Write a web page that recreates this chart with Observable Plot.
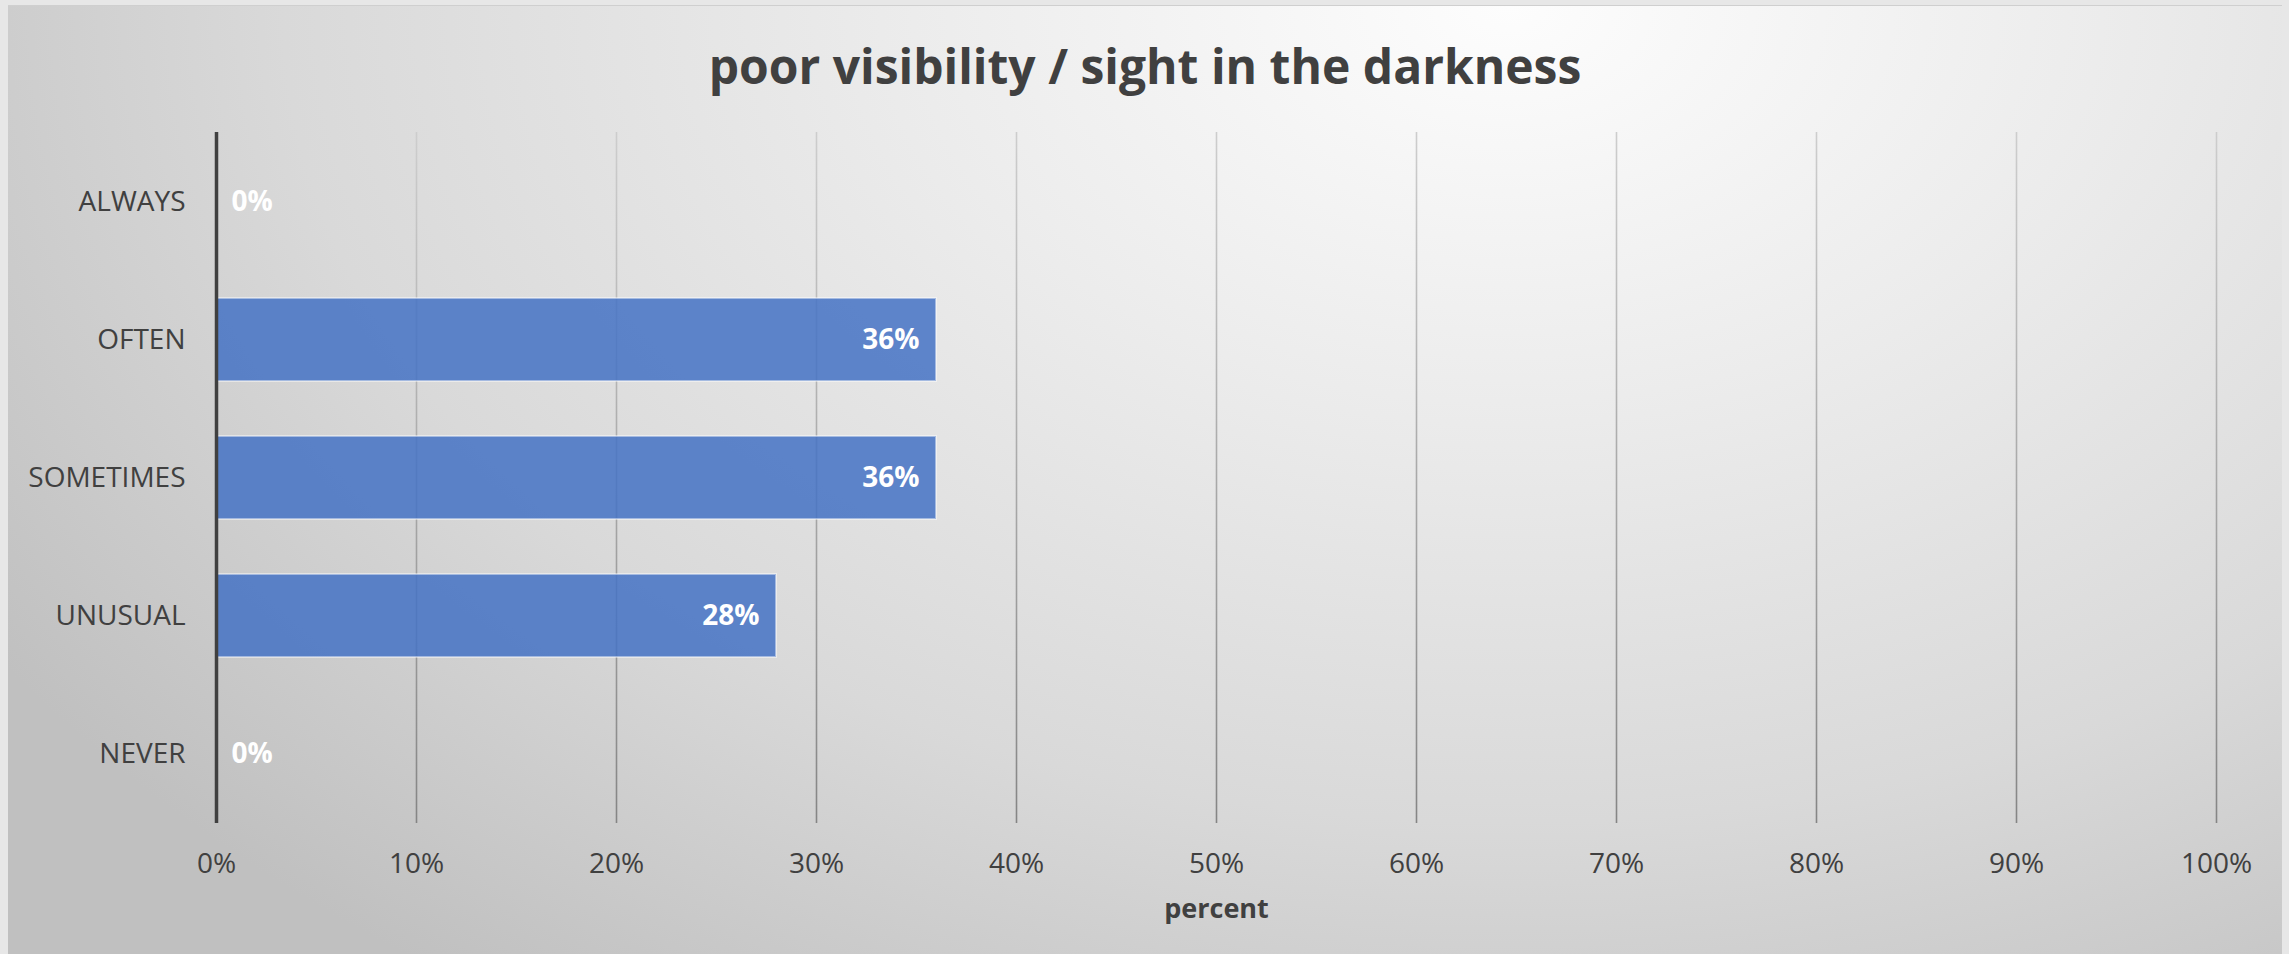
<!DOCTYPE html>
<html>
<head>
<meta charset="utf-8">
<script src="https://cdn.jsdelivr.net/npm/d3@7"></script>
<script src="https://cdn.jsdelivr.net/npm/@observablehq/plot@0.6"></script>
<style>
  html, body { margin: 0; padding: 0; background: #e7e7e7; }
  #wrap { position: relative; width: 2289px; height: 954px; overflow: hidden; background: #e7e7e7; }
  #frame {
    position: absolute; left: 8px; top: 5px; width: 2274px; height: 960px;
    border-top: 1px solid #cfcfcf;
    background: radial-gradient(ellipse 1800px 1200px at 1500px 0px, #fdfdfd 0%, #ececec 33%, #d9d9d9 68%, #c0c0c0 100%);
  }
  #title {
    position: absolute; left: 0; width: 2274px; top: 30px; text-align: center;
    font-family: "Open Sans", sans-serif; font-weight: 700; font-size: 48px; line-height: 60px;
    color: #404040;
  }
  #chart { position: absolute; left: 0; top: 100px; }
</style>
</head>
<body>
<div id="wrap">
  <div id="frame">
    <div id="title">poor visibility / sight in the darkness</div>
    <div id="chart"></div>
  </div>
</div>
<script>
const categories = ["ALWAYS", "OFTEN", "SOMETIMES", "UNUSUAL", "NEVER"];
const values = [0, 0.36, 0.36, 0.28, 0];
const tickValues = [0, 0.1, 0.2, 0.3, 0.4, 0.5, 0.6, 0.7, 0.8, 0.9, 1.0];
const xLabel = "percent";

const data = categories.map((c, i) => ({cat: c, value: values[i]}));
const pct = d3.format(".0%");
const font = "Open Sans, sans-serif";

const plot = Plot.plot({
  width: 2274,
  height: 849,
  marginLeft: 208,
  marginRight: 66,
  marginTop: 26,
  marginBottom: 132,
  style: {background: "transparent", fontFamily: font, overflow: "visible"},
  x: {domain: [0, 1], ticks: tickValues},
  y: {domain: categories, paddingInner: 0.4, paddingOuter: 0.2},
  marks: [
    Plot.gridX(tickValues.filter(t => t > 0), {stroke: "url(#gridGrad)", strokeOpacity: 1, strokeWidth: 1.6}),
    Plot.barX(data, {x: "value", y: "cat", fill: "#4472c4", fillOpacity: 0.85, stroke: "#ffffff", strokeOpacity: 0.45, strokeWidth: 2}),
    Plot.ruleX([0], {stroke: "#404040", strokeWidth: 3.5}),
    Plot.axisX({ticks: tickValues, tickFormat: pct, tickSize: 0, tickPadding: 30, fontSize: 28, fill: "#404040", label: null}),
    Plot.axisY({tickSize: 0, tickPadding: 31, fontSize: 28, fill: "#404040", label: null}),
    Plot.text(data.filter(d => d.value > 0), {x: "value", y: "cat", text: d => pct(d.value), textAnchor: "end", dx: -17, fill: "white", fontWeight: "bold", fontSize: 28}),
    Plot.text(data.filter(d => d.value === 0), {x: "value", y: "cat", text: d => pct(d.value), textAnchor: "start", dx: 15, fill: "white", fontWeight: "bold", fontSize: 28}),
    Plot.text([xLabel], {frameAnchor: "bottom", dy: 94, text: d => d, fill: "#404040", fontWeight: "bold", fontSize: 27})
  ]
});
// vertical gradient for gridlines (lighter at top, darker at bottom)
const ns = "http://www.w3.org/2000/svg";
const defs = document.createElementNS(ns, "defs");
const lg = document.createElementNS(ns, "linearGradient");
lg.setAttribute("id", "gridGrad");
lg.setAttribute("gradientUnits", "userSpaceOnUse");
lg.setAttribute("x1", "0"); lg.setAttribute("x2", "0");
lg.setAttribute("y1", "26"); lg.setAttribute("y2", "717");
[["0", "#cdcdcd"], ["1", "#858585"]].forEach(([o, c]) => {
  const s = document.createElementNS(ns, "stop");
  s.setAttribute("offset", o); s.setAttribute("stop-color", c);
  lg.appendChild(s);
});
defs.appendChild(lg);
plot.insertBefore(defs, plot.firstChild);
document.getElementById("chart").appendChild(plot);
</script>
</body>
</html>
